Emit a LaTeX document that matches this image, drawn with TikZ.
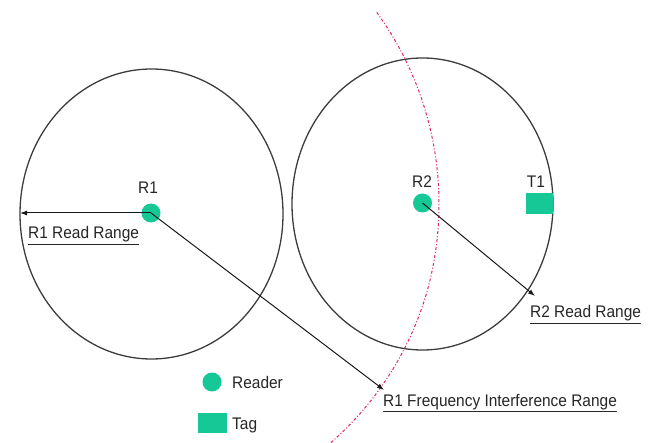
\documentclass[tikz,border=0pt]{standalone}
\usepackage{fontspec}
\setmainfont{Liberation Sans}
\newfontfamily\narrowlbl[FakeStretch=0.92]{Liberation Sans}
\usetikzlibrary{arrows.meta}
\definecolor{teal2}{RGB}{22,200,150}
\definecolor{ringgray}{RGB}{60,60,60}
\definecolor{interred}{RGB}{225,40,90}
\begin{document}
\begin{tikzpicture}[x=1pt,y=-1pt,
 ring/.style={draw=ringgray,line width=1.3pt},
 readerdot/.style={circle,fill=teal2,minimum size=19pt,inner sep=0},
 tagbox/.style={fill=teal2,minimum width=27pt,minimum height=21pt,inner sep=0},
 lbl/.style={inner sep=0,text=black!85,font=\narrowlbl\fontsize{16.8}{19}\selectfont},
 ptr/.style={draw=black!90,line width=1pt,-{Latex[length=7pt,width=5pt]}},
 interf/.style={draw=interred,line width=1pt,dash pattern=on 3pt off 2pt on 1pt off 2pt}]
\useasboundingbox (0,0) rectangle (650,443);
\begin{scope}
\clip (0,0) rectangle (650,443);
\draw[interf] (113,204) ++(-36:326) arc[start angle=-36,end angle=15,radius=326]
  arc[start angle=15,end angle=52,x radius=326,y radius=318];
\end{scope}
\draw[ring] (151.5,214) ellipse[x radius=131.5, y radius=145];
\draw[ring] (422.5,204) ellipse[x radius=130.5, y radius=146];
\node[readerdot] (r1) at (151,213) {};
\node[readerdot] (r2) at (422.5,203) {};
\node[tagbox] (t1) at (539.5,203.5) {};
\node[lbl] (r1lbl) at (148,188) {R1};
\node[lbl] (r2lbl) at (422,182) {R2};
\node[lbl] (t1lbl) at (536,182) {T1};
\coordinate (r1edge) at (20,213);
\coordinate (r2tip) at (535,296);
\coordinate (inttip) at (384,390);
\draw[ptr] (r1.center) -- (r1edge);
\draw[ptr] (r1.center) -- (inttip);
\draw[ptr] (r2.center) -- (r2tip);
\node[lbl,anchor=base west] (r1range) at (28,239) {\underline{R1 Read Range}};
\node[lbl,anchor=base west] (r2range) at (530,318) {\underline{R2 Read Range}};
\node[lbl,anchor=base west] (intrange) at (383,406) {\underline{R1 Frequency Interference Range}};
\node[readerdot] (legr) at (212,382) {};
\node[lbl,anchor=west] (legrt) at (232,382) {Reader};
\node[tagbox,minimum width=29pt,minimum height=20pt] (legt) at (212.5,423) {};
\node[lbl,anchor=base west] (legtt) at (232,429) {Tag};
\end{tikzpicture}
\end{document}
